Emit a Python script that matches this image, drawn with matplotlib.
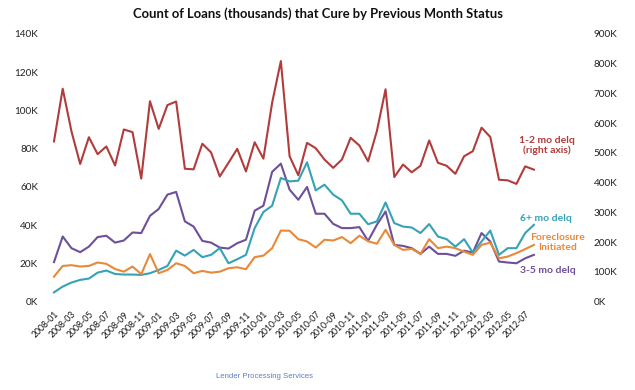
import matplotlib
matplotlib.use("Agg")
import matplotlib.pyplot as plt
import numpy as np

# months 2008-01 .. 2012-08
months = [f"{y}-{m:02d}" for y in range(2008, 2013) for m in range(1, 13)][:56]

# 1-2 mo delq, right axis (thousands)
delq_1_2 = [539, 716, 573, 463, 553, 496, 522, 458, 579, 570,
            414, 674, 581, 661, 673, 447, 445, 531, 502, 421,
            467, 514, 438, 536, 481, 669, 809, 489, 425, 534,
            516, 478, 450, 478, 551, 525, 472, 573, 714, 419,
            461, 435, 457, 542, 467, 457, 430, 489, 506, 585,
            554, 410, 408, 396, 455, 444]

# left axis series (thousands)
delq_3_5 = [20.7, 34.1, 28.0, 25.9, 28.8, 33.8, 34.5, 30.9, 32.0, 36.2,
            35.9, 44.9, 48.5, 56.0, 57.4, 42.0, 39.3, 31.8, 30.9, 28.3,
            27.8, 30.6, 32.4, 47.6, 50.2, 67.9, 72.2, 58.6, 53.3, 60.0,
            46.0, 46.0, 40.7, 38.5, 38.5, 39.0, 31.8, 40.2, 47.2, 29.7,
            29.2, 28.0, 25.0, 28.8, 25.0, 25.0, 24.0, 26.7, 25.7, 35.9,
            31.5, 21.0, 20.5, 20.1, 22.7, 24.5]

delq_6_plus = [4.9, 7.9, 10.0, 11.4, 12.1, 15.2, 16.3, 14.5, 14.2, 14.2,
               14.0, 14.9, 16.6, 18.7, 26.7, 24.1, 27.1, 23.3, 24.5, 28.0,
               20.1, 22.2, 24.5, 38.5, 46.9, 50.2, 64.7, 62.9, 63.3, 72.9,
               58.2, 61.2, 56.0, 53.0, 46.0, 46.0, 40.5, 42.0, 51.9, 41.1,
               39.3, 38.8, 35.9, 40.6, 34.1, 32.7, 28.8, 32.7, 25.7, 31.5,
               37.2, 24.5, 28.0, 28.0, 35.9, 40.2]

foreclosure = [13.1, 18.7, 19.1, 18.4, 18.7, 20.5, 19.8, 17.1, 15.7, 18.4,
               14.4, 24.9, 14.9, 16.6, 20.1, 18.7, 14.9, 16.1, 15.2, 15.7,
               17.5, 18.0, 17.0, 23.3, 24.1, 28.0, 37.2, 37.1, 32.7, 31.5,
               28.3, 32.4, 32.0, 33.8, 30.6, 34.5, 31.6, 30.3, 37.6, 29.7,
               27.1, 27.6, 25.0, 32.7, 28.0, 28.8, 28.0, 26.2, 24.5, 29.7,
               30.9, 22.7, 23.6, 25.4, 27.5, 29.7]

left_ticks = [0, 20, 40, 60, 80, 100, 120, 140]
right_ticks = [0, 100, 200, 300, 400, 500, 600, 700, 800, 900]

c_red = "#b23b3b"
c_purple = "#6e4f9a"
c_teal = "#36a2b5"
c_orange = "#e8893a"

tick_font = "Lato"

fig = plt.figure(figsize=(6.35, 3.9), dpi=100)
ax = fig.add_axes([45 / 635, 1 - 301.7 / 390, 543 / 635, 267.7 / 390])
ax2 = ax.twinx()

x = np.arange(len(months))
ax.plot(x, delq_3_5, color=c_purple, lw=1.5)
ax.plot(x, delq_6_plus, color=c_teal, lw=1.5)
ax.plot(x, foreclosure, color=c_orange, lw=1.5)
ax2.plot(x, delq_1_2, color=c_red, lw=1.5)

ax.set_xlim(-1.03, 61.2)
ax.set_ylim(0, 140)
ax2.set_ylim(0, 900)

ax.set_yticks(left_ticks)
ax.set_yticklabels([f"{v}K" for v in left_ticks], fontsize=7.2, family=tick_font, color="#222222")
ax2.set_yticks(right_ticks)
ax2.set_yticklabels([f"{v}K" for v in right_ticks], fontsize=7.2, family=tick_font, color="#222222")

ax.set_xticks(x[::2])
ax.set_xticklabels(months[::2], rotation=45, ha="right", rotation_mode="anchor",
                   fontsize=6.2, family=tick_font, color="#111111")

for a in (ax, ax2):
    for s in a.spines.values():
        s.set_visible(False)
    a.tick_params(length=0)
ax.tick_params(axis="y", pad=5)
ax.tick_params(axis="x", pad=6)
ax2.tick_params(axis="y", pad=4)

# series labels
ax.text(56.5, 81.6, "1-2 mo delq\n(right axis)", color=c_red, fontsize=7.5,
        fontweight="bold", ha="center", va="center", family=tick_font, linespacing=1.1)
ax.text(56.4, 43.4, "6+ mo delq", color=c_teal, fontsize=7.5,
        fontweight="bold", ha="center", va="center", family=tick_font)
ax.text(57.7, 30.8, "Foreclosure\nInitiated", color=c_orange, fontsize=7.5,
        fontweight="bold", ha="center", va="center", family=tick_font, linespacing=1.1)
ax.text(56.6, 16.1, "3-5 mo delq", color=c_purple, fontsize=7.5,
        fontweight="bold", ha="center", va="center", family=tick_font)

fig.text(318 / 635, 1 - 14 / 390, "Count of Loans (thousands) that Cure by Previous Month Status",
         ha="center", va="center", fontsize=9.4, fontweight="bold", family=tick_font, color="#111111")
fig.text(265 / 635, 1 - 377 / 390, "Lender Processing Services", ha="center", va="center",
         fontsize=5.6, family="Liberation Sans", color="#5b7fc0")

fig.savefig("out.png", dpi=100)
